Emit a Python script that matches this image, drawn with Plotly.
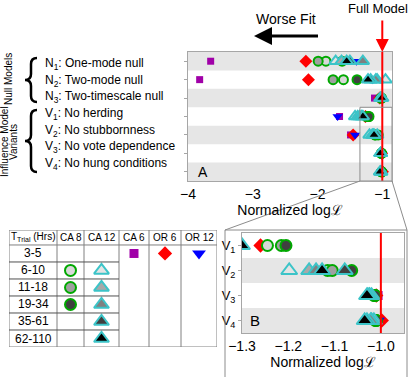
import plotly.graph_objects as go

W, H = 411, 377
FONT = "Arial, Liberation Sans, sans-serif"

# ---- data -------------------------------------------------------------
model_labels = ["N<sub>1</sub>: One-mode null", "N<sub>2</sub>: Two-mode null",
                "N<sub>3</sub>: Two-timescale null", "V<sub>1</sub>: No herding",
                "V<sub>2</sub>: No stubbornness", "V<sub>3</sub>: No vote dependence",
                "V<sub>4</sub>: No hung conditions"]
inset_labels = ["V<sub>1</sub>", "V<sub>2</sub>", "V<sub>3</sub>", "V<sub>4</sub>"]
trial_bins = ["3-5", "6-10", "11-18", "19-34", "35-61", "62-110"]
table_cols = ["T<sub>Trial</sub> (Hrs)", "CA 8", "CA 12", "CA 6", "OR 6", "OR 12"]
top_ticks = [-4, -3, -2, -1]
inset_ticks = [-1.3, -1.2, -1.1, -1.0]

# normalized log-likelihood, order N1 N2 N3 V1 V2 V3 V4
ca6_3_5 = [-3.65, -3.82, -1.12, -1.66, -1.49, -1.006, -1.01]
or6_3_5 = [-2.18, -2.14, -1.04, -1.26, -1.45, -1.01, -0.998]
or12_3_5 = [-1.40, -1.15, -1.03, -1.69, -1.42, -1.012, -1.005]
ca8_6_10 = [-1.87, -1.60, -1.02, -1.245, -1.115, -1.015, -1.012]
ca8_11_18 = [-1.99, -1.76, -1.02, -1.215, -1.105, -1.013, -1.01]
ca8_19_34 = [-1.62, -1.39, -1.01, -1.205, -1.063, -1.012, -1.01]
ca12_6_10 = [-1.72, -0.95, -1.00, -1.42, -1.198, -1.024, -1.015]
ca12_11_18 = [-1.63, -1.08, -1.02, -1.38, -1.155, -1.02, -1.02]
ca12_19_34 = [-1.30, -1.10, -1.03, -1.35, -1.14, -1.025, -1.022]
ca12_35_61 = [-1.50, -1.18, -1.02, -1.32, -1.078, -1.028, -1.03]
ca12_62_110 = [-1.55, -1.22, -1.01, -1.30, -1.127, -1.03, -1.035]

# (values, table column, trial bin, symbol, fill, edge)
series = [
    (ca6_3_5, "CA 6", "3-5", "square", "#a000a8", None),
    (or6_3_5, "OR 6", "3-5", "diamond", "#ff0000", None),
    (or12_3_5, "OR 12", "3-5", "triangle-down", "#0000ff", None),
    (ca8_6_10, "CA 8", "6-10", "circle", "#d8d8d8", "#00a800"),
    (ca8_11_18, "CA 8", "11-18", "circle", "#a0a0a0", "#00a800"),
    (ca8_19_34, "CA 8", "19-34", "circle", "#404040", "#00a800"),
    (ca12_6_10, "CA 12", "6-10", "triangle-up", "#e4e4e4", "#3cc4c8"),
    (ca12_11_18, "CA 12", "11-18", "triangle-up", "#a8a8a8", "#3cc4c8"),
    (ca12_19_34, "CA 12", "19-34", "triangle-up", "#808080", "#3cc4c8"),
    (ca12_35_61, "CA 12", "35-61", "triangle-up", "#404040", "#3cc4c8"),
    (ca12_62_110, "CA 12", "62-110", "triangle-up", "#000000", "#3cc4c8"),
]
sizes = {"square": (7, 9, 9), "diamond": (10, 11, 11), "triangle-down": (9, 11, 12),
         "circle": (9, 11, 11), "triangle-up": (11, 14, 13)}


def px(x):
    return x / W


def py(y):
    return 1 - y / H


col_edges = [0, 48, 75, 110, 140, 172, 208]
col_mid = {c: (col_edges[i] + col_edges[i + 1]) / 2 for i, c in enumerate(table_cols)}
rows = list(range(1, len(model_labels) + 1))

fig = go.Figure()
for vals, col, tbin, sym, fill, edge in series:
    s_top, s_in, s_tab = sizes[sym]
    lw = 2 if edge else 0
    mk = dict(symbol=sym, color=fill, line=dict(color=edge or fill, width=lw))
    fig.add_trace(go.Scatter(x=vals, y=rows, mode="markers", xaxis="x", yaxis="y",
                             marker=dict(mk, size=s_top), hoverinfo="x"))
    fig.add_trace(go.Scatter(x=vals[3:], y=[r - 3 for r in rows[3:]], mode="markers",
                             xaxis="x2", yaxis="y2", marker=dict(mk, size=s_in), hoverinfo="x"))
    fig.add_trace(go.Scatter(x=[col_mid[col]], y=[trial_bins.index(tbin)], mode="markers",
                             xaxis="x3", yaxis="y3", marker=dict(mk, size=s_tab), hoverinfo="skip"))

shapes = []
gray_band = "#e6e6e6"
for r in rows[::2]:
    shapes.append(dict(type="rect", xref="x domain", yref="y", x0=0, x1=1, y0=r - 0.5, y1=r + 0.5,
                       fillcolor=gray_band, line_width=0, layer="below"))
for r in [2, 4]:
    shapes.append(dict(type="rect", xref="x2 domain", yref="y2", x0=0, x1=1, y0=r - 0.5, y1=r + 0.5,
                       fillcolor=gray_band, line_width=0, layer="below"))
# full model line
shapes.append(dict(type="line", xref="x", yref="y domain", x0=-1, x1=-1, y0=0, y1=1,
                   line=dict(color="#ff0000", width=2)))
shapes.append(dict(type="line", xref="x2", yref="y2 domain", x0=-1, x1=-1, y0=0, y1=1,
                   line=dict(color="#ff0000", width=2)))
# zoom region and connectors
shapes.append(dict(type="rect", xref="x", yref="y", x0=-1.345, x1=-0.85, y0=3.5, y1=7.5,
                   line=dict(color="#8c8c8c", width=1)))
shapes.append(dict(type="rect", xref="paper", yref="paper", x0=px(225), x1=px(407), y0=py(230), y1=py(380),
                   line=dict(color="#8c8c8c", width=1)))
shapes.append(dict(type="line", xref="paper", yref="paper", x0=px(360), y0=py(181), x1=px(225), y1=py(230),
                   line=dict(color="#8c8c8c", width=1)))
shapes.append(dict(type="line", xref="paper", yref="paper", x0=px(392), y0=py(181), x1=px(407), y1=py(230),
                   line=dict(color="#8c8c8c", width=1)))


def brace(x_tip, x_mid, x_end, y_top, y_bot):
    ym = (y_top + y_bot) / 2
    P = lambda x, y: f"{px(x):.5f},{py(y):.5f}"
    return (f"M {P(x_end, y_top)} Q {P(x_mid, y_top)} {P(x_mid, y_top + 6)} "
            f"L {P(x_mid, ym - 6)} Q {P(x_mid, ym)} {P(x_tip, ym)} "
            f"Q {P(x_mid, ym)} {P(x_mid, ym + 6)} L {P(x_mid, y_bot - 6)} "
            f"Q {P(x_mid, y_bot)} {P(x_end, y_bot)}")


for yt, yb in [(58, 102), (110, 172)]:
    shapes.append(dict(type="path", xref="paper", yref="paper", path=brace(25, 31, 37, yt, yb),
                       line=dict(color="black", width=2.5)))

# table grid
tab_line = dict(color="#808080", width=1)
for e in col_edges:
    shapes.append(dict(type="line", xref="x3", yref="y3", x0=e, x1=e, y0=-1.38, y1=5.5, line=tab_line))
for yv in [-1.38, -0.5, 5.5]:
    shapes.append(dict(type="line", xref="x3", yref="y3", x0=0, x1=col_edges[-1], y0=yv, y1=yv, line=tab_line))
for i in range(len(trial_bins) - 1):
    shapes.append(dict(type="line", xref="x3", yref="y3", x0=0, x1=col_edges[3], y0=i + 0.5, y1=i + 0.5,
                       line=dict(color="#505050", width=1)))


def note(text, x, y, size, **kw):
    d = dict(text=text, x=px(x), y=py(y), xref="paper", yref="paper", xanchor="center",
             yanchor="middle", showarrow=False, font=dict(size=size))
    d.update(kw)
    return d


ann = []
for i, lab in enumerate(model_labels):
    ann.append(note(lab, 43, 64 + i * 16.7, 12, xanchor="left"))
ann.append(note("Null Models", 8, 79, 10, textangle=-90))
ann.append(note("Influence Model", 5, 142, 10, textangle=-90))
ann.append(note("Variants", 14, 142, 10, textangle=-90))
ann.append(note("Worse Fit", 286, 19, 14))
ann.append(note("Full Model", 378, 8, 13))
ann.append(dict(text=" ", x=px(254), y=py(36), xref="paper", yref="paper", showarrow=True,
                ax=66, ay=0, arrowhead=2, arrowwidth=3, arrowsize=1.2, arrowcolor="black", standoff=0,
                font=dict(size=2)))
ann.append(dict(text=" ", x=-1, y=py(52), xref="x", yref="paper", showarrow=True,
                ax=0, ay=-34, arrowhead=2, arrowwidth=2, arrowsize=1.3, arrowcolor="#ff0000", standoff=0,
                font=dict(size=2)))
ann.append(dict(text="A", x=px(196), y=7, xref="paper", yref="y", xanchor="left",
                showarrow=False, font=dict(size=14)))
ann.append(dict(text="B", x=px(248), y=4, xref="paper", yref="y2", xanchor="left",
                showarrow=False, font=dict(size=15)))
for c in table_cols:
    ann.append(dict(text=c, x=col_mid[c], y=-0.94, xref="x3", yref="y3", showarrow=False,
                    xanchor="center", font=dict(size=10)))
for i, b in enumerate(trial_bins):
    ann.append(dict(text=b, x=col_mid[table_cols[0]], y=i, xref="x3", yref="y3", showarrow=False,
                    xanchor="center", font=dict(size=12)))

box = dict(showline=True, mirror=True, linecolor="#a6a6a6", linewidth=1, showgrid=False, zeroline=False)
fig.update_layout(
    width=W, height=H, margin=dict(l=0, r=0, t=0, b=0, autoexpand=False), showlegend=False,
    plot_bgcolor="white", paper_bgcolor="white",
    font=dict(family=FONT, color="black", size=12),
    shapes=shapes, annotations=ann,
    xaxis=dict(box, domain=[px(188), px(392)], range=[-4, -0.85], anchor="y",
               tickvals=top_ticks, tickfont=dict(size=14),
               title=dict(text="Normalized log\u2112", font=dict(size=14), standoff=4)),
    yaxis=dict(box, domain=[py(181), py(52)], range=[7.5, 0.5], anchor="x",
               tickvals=rows, showticklabels=False, ticks="outside", ticklen=3, tickcolor="#a6a6a6"),
    xaxis2=dict(box, domain=[px(242), px(404)], range=[-1.3, -0.95], anchor="y2",
                tickvals=inset_ticks, tickformat=".1f", tickfont=dict(size=14),
                title=dict(text="Normalized log\u2112", font=dict(size=14), standoff=4)),
    yaxis2=dict(box, domain=[py(333), py(233)], range=[4.5, 0.5], anchor="x2",
                tickvals=[1, 2, 3, 4], ticktext=inset_labels, tickfont=dict(size=13),
                ticks="outside", ticklen=3, tickcolor="#a6a6a6"),
    xaxis3=dict(domain=[px(9), px(217)], range=[0, col_edges[-1]], anchor="y3", visible=False),
    yaxis3=dict(domain=[py(347), py(230)], range=[5.5, -1.38], anchor="x3", visible=False),
)

fig.write_html("out.html", config={"displayModeBar": False},
               post_script="document.body.style.margin='0';")
